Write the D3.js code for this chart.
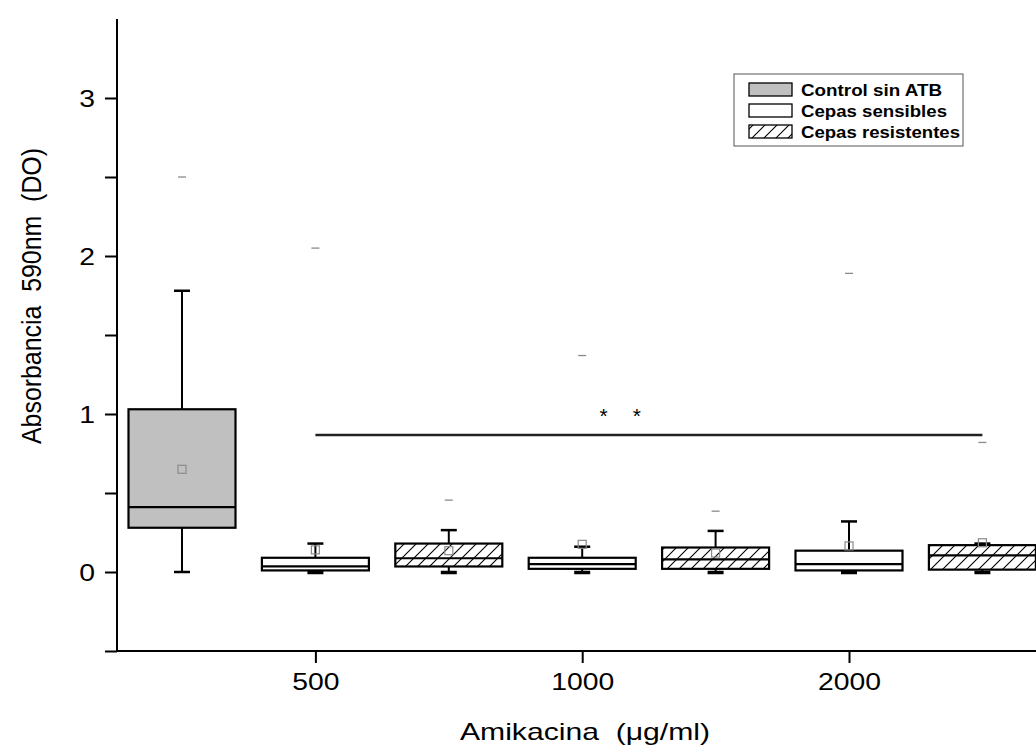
<!DOCTYPE html>
<html>
<head>
<meta charset="utf-8">
<script src="https://d3js.org/d3.v7.min.js"></script>
<style>
  html, body { margin: 0; padding: 0; background: #fff; }
  svg { display: block; }
  text { font-family: Arial, "Liberation Sans", sans-serif; }
</style>
</head>
<body>
<svg id="chart" width="1036" height="750"></svg>
<script>
// ---------------- data ----------------
const boxTypes   = ["control", "sens", "res", "sens", "res", "sens", "res"];
const boxPos     = [0, 1, 2, 3, 4, 5, 6];
const whiskerLow = [0, 0, 0, 0, 0, 0, 0];
const q1Values   = [0.28, 0.01, 0.035, 0.02, 0.02, 0.01, 0.015];
const medians    = [0.41, 0.035, 0.087, 0.05, 0.08, 0.05, 0.105];
const q3Values   = [1.03, 0.09, 0.18, 0.09, 0.155, 0.135, 0.17];
const whiskerHigh= [1.78, 0.18, 0.265, 0.16, 0.26, 0.32, 0.18];
const means      = [0.65, 0.14, 0.135, 0.175, 0.12, 0.165, 0.185];
const outliers   = [2.50, 2.05, 0.455, 1.37, 0.385, 1.89, 0.82];

const xTickPos    = [1, 3, 5];
const xTickLabels = ["500", "1000", "2000"];
const yMajorTicks = [0, 1, 2, 3];
const yMinorTicks = [-0.5, 0.5, 1.5, 2.5];

const legendLabels = ["Control sin ATB", "Cepas sensibles", "Cepas resistentes"];
const legendTypes  = ["control", "sens", "res"];

const sigLine  = { from: 1, to: 6, value: 0.867 };
const sigStars = [3.16, 3.41];
const sigStarValue = 0.94;

// ---------------- layout ----------------
const svg = d3.select("#chart");
svg.append("rect").attr("width", 1036).attr("height", 750).attr("fill", "#fff");

const x = d3.scaleLinear().domain([-0.5, 7]).range([115.3, 1115.8]);
const y = d3.scaleLinear().domain([-0.5, 3.5]).range([651, 19]);
const SX = 1.18; // horizontal stretch of the reference's lettering

const defs = svg.append("defs");
const pat = defs.append("pattern")
  .attr("id", "hatch")
  .attr("patternUnits", "userSpaceOnUse")
  .attr("width", 12).attr("height", 12);
pat.append("rect").attr("width", 12).attr("height", 12).attr("fill", "#fff");
pat.append("path")
  .attr("d", "M0,12 L12,0 M-3,3 L3,-3 M9,15 L15,9")
  .attr("stroke", "#000").attr("stroke-width", 1.1);

const fillFor = t => t === "control" ? "#c0c0c0" : (t === "res" ? "url(#hatch)" : "#fff");

// ---------------- axes ----------------
const yAxisMajor = d3.axisLeft(y).tickValues(yMajorTicks).tickSize(12).tickFormat(d3.format("d"));
const yAxisMinor = d3.axisLeft(y).tickValues(yMinorTicks).tickSize(12).tickFormat("");
const gyMin = svg.append("g").attr("transform", "translate(117,0)").call(yAxisMinor);
const gy = svg.append("g").attr("transform", "translate(117,0)").call(yAxisMajor);
[gy, gyMin].forEach(g => {
  g.select(".domain").attr("stroke", "#000").attr("stroke-width", 2).attr("d", `M0,${y(3.5)}V${y(-0.5)}`);
  g.selectAll(".tick line").attr("stroke", "#000").attr("stroke-width", 2);
});
gy.selectAll(".tick text")
  .attr("font-size", 24).attr("fill", "#000")
  .attr("font-family", "Arial, 'Liberation Sans', sans-serif")
  .attr("text-anchor", "end")
  .attr("dy", null)
  .attr("x", -22 / SX).attr("y", 8.6)
  .attr("transform", `scale(${SX},1)`);

const xAxis = d3.axisBottom(x).tickValues(xTickPos).tickSize(12)
  .tickFormat((d, i) => xTickLabels[i]);
const gx = svg.append("g").attr("transform", `translate(0,${y(-0.5)})`).call(xAxis);
gx.select(".domain").attr("stroke", "#000").attr("stroke-width", 2)
  .attr("d", `M117,0H1036`);
gx.selectAll(".tick line").attr("stroke", "#000").attr("stroke-width", 2);
gx.selectAll(".tick text")
  .attr("font-size", 24).attr("fill", "#000")
  .attr("font-family", "Arial, 'Liberation Sans', sans-serif")
  .attr("dy", null).attr("y", 39)
  .attr("transform", `scale(${SX},1)`);

// axis titles
svg.append("text")
  .attr("transform", `translate(41,296) rotate(-90) scale(1,${SX})`)
  .attr("text-anchor", "middle")
  .attr("font-size", 23)
  .attr("xml:space", "preserve")
  .attr("textLength", 296).attr("lengthAdjust", "spacingAndGlyphs")
  .text("Absorbancia  590nm  (DO)");

svg.append("text")
  .attr("x", 585).attr("y", 740)
  .attr("text-anchor", "middle")
  .attr("font-size", 24)
  .attr("xml:space", "preserve")
  .attr("textLength", 250).attr("lengthAdjust", "spacingAndGlyphs")
  .text("Amikacina  (\u03BCg/ml)");

// ---------------- boxes ----------------
const boxW = 107, capW = 16;
const plot = svg.append("g");
boxPos.forEach((p, i) => {
  const cx = x(p);
  const g = plot.append("g");
  // whiskers
  g.append("line").attr("x1", cx).attr("x2", cx).attr("y1", y(q3Values[i])).attr("y2", y(whiskerHigh[i]))
    .attr("stroke", "#000").attr("stroke-width", 2);
  g.append("line").attr("x1", cx).attr("x2", cx).attr("y1", y(q1Values[i])).attr("y2", y(whiskerLow[i]))
    .attr("stroke", "#000").attr("stroke-width", 2);
  g.append("line").attr("x1", cx - capW / 2).attr("x2", cx + capW / 2)
    .attr("y1", y(whiskerHigh[i])).attr("y2", y(whiskerHigh[i])).attr("stroke", "#000").attr("stroke-width", 2.5);
  const lowBox = boxTypes[i] !== "control";
  g.append("line").attr("x1", cx - capW / 2).attr("x2", cx + capW / 2)
    .attr("y1", y(whiskerLow[i]) + (lowBox ? 0.5 : 0)).attr("y2", y(whiskerLow[i]) + (lowBox ? 0.5 : 0))
    .attr("stroke", "#000").attr("stroke-width", lowBox ? 3.5 : 2.5);
  // box
  g.append("rect")
    .attr("x", cx - boxW / 2).attr("width", boxW)
    .attr("y", y(q3Values[i])).attr("height", y(q1Values[i]) - y(q3Values[i]))
    .attr("fill", fillFor(boxTypes[i])).attr("stroke", "#000").attr("stroke-width", 2.2);
  // median
  g.append("line").attr("x1", cx - boxW / 2).attr("x2", cx + boxW / 2)
    .attr("y1", y(medians[i])).attr("y2", y(medians[i])).attr("stroke", "#000").attr("stroke-width", 2.2);
  // mean square
  g.append("rect").attr("x", cx - 4).attr("y", y(means[i]) - 4).attr("width", 8).attr("height", 8)
    .attr("fill", "none").attr("stroke", "#8a8a8a").attr("stroke-width", 1.2);
  // outlier dash
  g.append("line").attr("x1", cx - 4).attr("x2", cx + 4)
    .attr("y1", y(outliers[i])).attr("y2", y(outliers[i])).attr("stroke", "#8a8a8a").attr("stroke-width", 1.3);
});

// significance line and stars
svg.append("line")
  .attr("x1", x(sigLine.from)).attr("x2", x(sigLine.to))
  .attr("y1", y(sigLine.value)).attr("y2", y(sigLine.value))
  .attr("stroke", "#222").attr("stroke-width", 2.4);
sigStars.forEach(s => {
  svg.append("text").attr("x", x(s)).attr("y", y(sigStarValue))
    .attr("text-anchor", "middle").attr("font-size", 21).text("*");
});

// ---------------- legend ----------------
const legendRowY   = [83, 104, 125];
const legendTextW  = [141, 146, 159];
const lg = svg.append("g").attr("transform", "translate(734,0)");
lg.append("rect").attr("y", 74).attr("width", 229).attr("height", 72).attr("fill", "#fff")
  .attr("stroke", "#555").attr("stroke-width", 1);
legendTypes.forEach((t, i) => {
  const yy = legendRowY[i];
  lg.append("rect").attr("x", 15).attr("y", yy).attr("width", 43).attr("height", 13)
    .attr("fill", fillFor(t)).attr("stroke", "#000").attr("stroke-width", 1.3);
  lg.append("text").attr("x", 67).attr("y", yy + 13)
    .attr("font-size", 17).attr("font-weight", "bold")
    .attr("textLength", legendTextW[i]).attr("lengthAdjust", "spacingAndGlyphs")
    .text(legendLabels[i]);
});
</script>
</body>
</html>
